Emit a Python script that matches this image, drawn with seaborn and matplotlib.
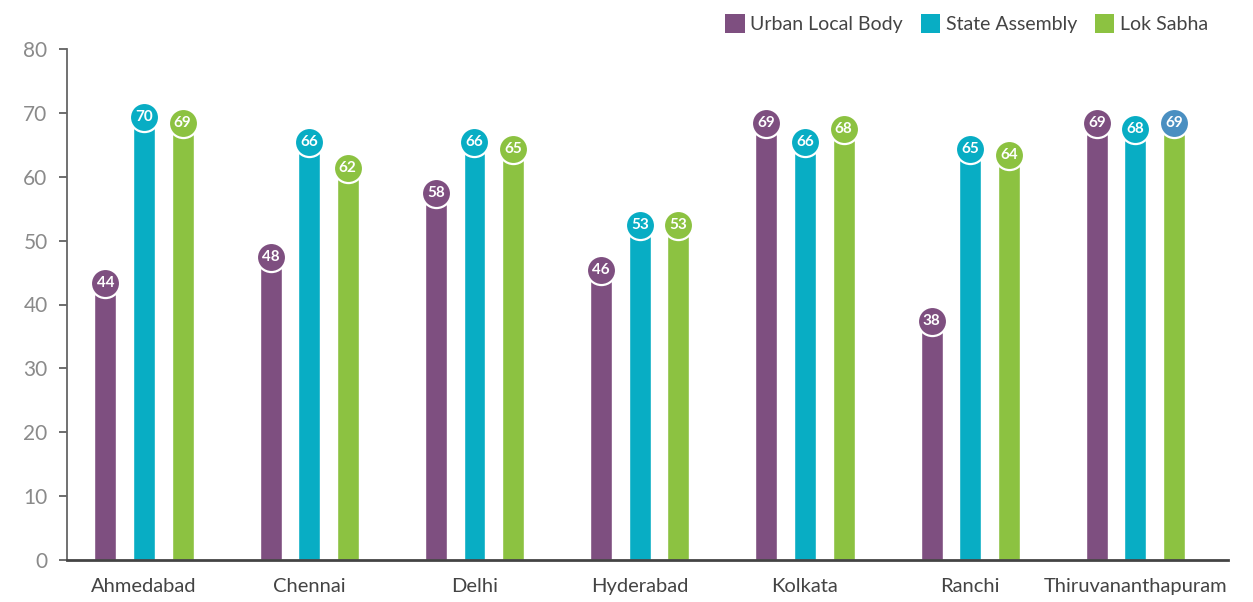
import matplotlib
matplotlib.use("Agg")
import matplotlib.pyplot as plt
import seaborn as sns
import pandas as pd
from matplotlib.patches import Patch

cities = ["Ahmedabad", "Chennai", "Delhi", "Hyderabad", "Kolkata", "Ranchi", "Thiruvananthapuram"]
series = ["Urban Local Body", "State Assembly", "Lok Sabha"]
ulb = [44, 48, 58, 46, 69, 38, 69]
state = [70, 66, 66, 53, 66, 65, 68]
lok = [69, 62, 65, 53, 68, 64, 69]
colors = ["#7e4f80", "#08adc4", "#8cc241"]
yticks = [0, 10, 20, 30, 40, 50, 60, 70, 80]

rows = []
for s, vals in zip(series, [ulb, state, lok]):
    for c, v in zip(cities, vals):
        rows.append({"City": c, "Series": s, "Turnout": v})
df = pd.DataFrame(rows)

sns.set_theme(style="white")
plt.rcParams["font.family"] = ["Lato", "DejaVu Sans"]

fig = plt.figure(figsize=(12.53, 6.02), dpi=100)
ax = fig.add_axes([67 / 1253, 42 / 602, (1228 - 67) / 1253, (560 - 49) / 602])

sns.barplot(data=df, x="City", y="Turnout", hue="Series", order=cities,
            hue_order=series, palette=colors, width=0.7, gap=0.43,
            saturation=1, ax=ax, legend=False, errorbar=None)

# circular value labels
for si, (s, vals) in enumerate(zip(series, [ulb, state, lok])):
    cont = ax.containers[si]
    for ci, (bar, v) in enumerate(zip(cont, vals)):
        xc = bar.get_x() + bar.get_width() / 2
        fc = colors[si]
        if s == "Lok Sabha" and cities[ci] == "Thiruvananthapuram":
            fc = "#4a8fc1"
        ax.scatter([xc], [v - 0.6], s=440, color=fc, edgecolor="white",
                   linewidth=1.6, zorder=5, clip_on=False)
        ax.text(xc, v - 0.6, f"{v}", ha="center", va="center", color="white",
                fontsize=11, fontweight="bold", zorder=6)

ax.set_ylim(0, 80)
ax.set_xlim(-0.466, 6.56)
ax.set_yticks(yticks)
ax.set_yticklabels([str(t) for t in yticks], fontsize=15, color="#8a8a8a")
ax.tick_params(axis="y", direction="out", length=6, width=1.2, color="#555555", pad=8, left=True)
ax.tick_params(axis="x", length=0, pad=13)
for lbl in ax.get_xticklabels():
    lbl.set_fontsize(14.5)
    lbl.set_color("#444444")
ax.set_xlabel("")
ax.set_ylabel("")
for sp in ["top", "right"]:
    ax.spines[sp].set_visible(False)
ax.spines["left"].set_color("#666666")
ax.spines["left"].set_linewidth(1.3)
ax.spines["bottom"].set_color("#444444")
ax.spines["bottom"].set_linewidth(2)

handles = [Patch(facecolor=c, edgecolor="none") for c in colors]
fig.legend(handles, series, loc="upper right", bbox_to_anchor=(0.978, 1.005), ncol=3,
           frameon=False, fontsize=14, handlelength=1.0, handleheight=1.05,
           handletextpad=0.3, columnspacing=0.9, labelcolor="#444444")

fig.savefig("out.png", dpi=100, facecolor="white")
